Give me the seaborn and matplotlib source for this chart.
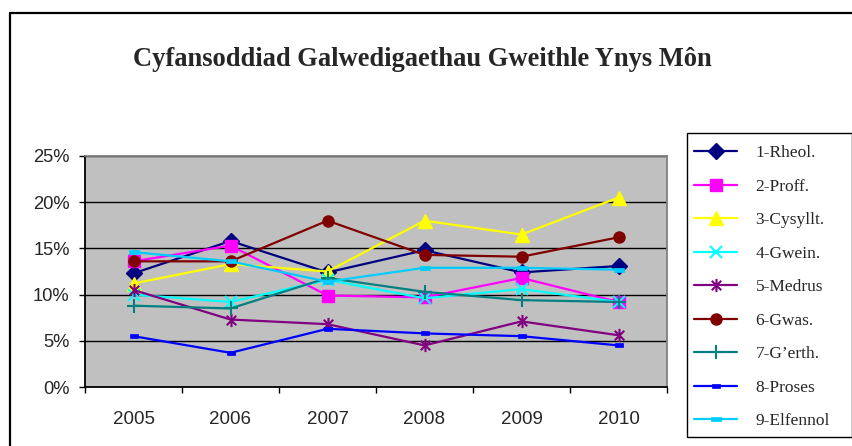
import numpy as np
import pandas as pd
import matplotlib
matplotlib.use("Agg")
import matplotlib.pyplot as plt
import seaborn as sns
from matplotlib.path import Path
from matplotlib.lines import Line2D
from matplotlib.patches import Rectangle
from matplotlib.ticker import FixedLocator, FuncFormatter

# Share of the Anglesey workforce by occupation group (%)
years = [2005, 2006, 2007, 2008, 2009, 2010]
rheol = [12.3, 15.8, 12.4, 14.8, 12.4, 13.1]
proff = [13.6, 15.3, 9.9, 9.7, 11.8, 9.2]
cysyllt = [11.2, 13.3, 12.5, 18.0, 16.5, 20.5]
gwein = [10.0, 9.2, 11.6, 9.6, 10.6, 9.2]
medrus = [10.5, 7.3, 6.8, 4.5, 7.1, 5.6]
gwas = [13.6, 13.6, 18.0, 14.3, 14.1, 16.2]
gerth = [8.8, 8.5, 11.8, 10.3, 9.4, 9.2]
proses = [5.5, 3.7, 6.3, 5.8, 5.5, 4.5]
elfennol = [14.6, 13.6, 11.4, 12.9, 12.9, 12.7]

labels = ["1-Rheol.", "2-Proff.", "3-Cysyllt.", "4-Gwein.", "5-Medrus",
          "6-Gwas.", "7-G\u2019erth.", "8-Proses", "9-Elfennol"]
values = [rheol, proff, cysyllt, gwein, medrus, gwas, gerth, proses, elfennol]

sns.set_theme(style="white")
plt.rcParams["font.family"] = ["Liberation Sans", "DejaVu Sans"]

# marker shapes
asterisk = Path([(0, -1), (0, 1), (-0.72, -0.72), (0.72, 0.72), (-0.72, 0.72), (0.72, -0.72)],
                [Path.MOVETO, Path.LINETO, Path.MOVETO, Path.LINETO, Path.MOVETO, Path.LINETO])
dash = Path([(-1, -0.5), (1, -0.5), (1, 0.5), (-1, 0.5), (-1, -0.5)],
            [Path.MOVETO, Path.LINETO, Path.LINETO, Path.LINETO, Path.CLOSEPOLY])

styles = [
    dict(color="#000080", marker="D", markersize=8, mew=1.0),
    dict(color="#FF00FF", marker="s", markersize=8, mew=1.0),
    dict(color="#FFFF00", marker="^", markersize=9.5, mew=1.0),
    dict(color="#00FFFF", marker="x", markersize=8, mew=1.5),
    dict(color="#800080", marker=asterisk, markersize=9.5, mew=1.5),
    dict(color="#800000", marker="o", markersize=8, mew=1.0),
    dict(color="#008080", marker="+", markersize=10, mew=1.5),
    dict(color="#0000FF", marker=dash, markersize=5.5, mew=0.5),
    dict(color="#00CCFF", marker=dash, markersize=7, mew=0.5),
]

W, H = 853, 446
fig = plt.figure(figsize=(W / 100, H / 100), dpi=100)
fig.patch.set_facecolor("white")

ax = fig.add_axes([85 / W, 1 - 387 / H, 582 / W, 231 / H])
ax.set_facecolor("#C0C0C0")

for lab, vals, st in zip(labels, values, styles):
    df = pd.DataFrame({"year": years, "pct": vals})
    sns.lineplot(data=df, x="year", y="pct", ax=ax, color=st["color"],
                 marker=st["marker"], markersize=st["markersize"],
                 markeredgewidth=st["mew"], markeredgecolor=st["color"],
                 markerfacecolor=st["color"], linewidth=1.6, label=lab,
                 legend=False)

ax.set_xlim(years[0] - 0.5, years[-1] + 0.5)
ax.set_ylim(0, 25)
ax.set_xlabel("")
ax.set_ylabel("")

# y axis: percent ticks with black gridlines
ax.yaxis.set_major_locator(FixedLocator([0, 5, 10, 15, 20, 25]))
ax.yaxis.set_major_formatter(FuncFormatter(lambda v, p: f"{v:.0f}%"))
ax.grid(axis="y", color="black", linewidth=1.0)
ax.set_axisbelow(True)

# x axis: tick marks between categories, labels centred on categories
ax.xaxis.set_major_locator(FixedLocator([y - 0.5 for y in years] + [years[-1] + 0.5]))
ax.xaxis.set_major_formatter(FuncFormatter(lambda v, p: ""))
ax.xaxis.set_minor_locator(FixedLocator(years))
ax.xaxis.set_minor_formatter(FuncFormatter(lambda v, p: f"{v:.0f}"))
ax.tick_params(axis="x", which="major", direction="out", length=4, width=1, color="black", bottom=True)
ax.tick_params(axis="x", which="minor", length=0, pad=17.5, labelsize=13.5, bottom=True)
ax.tick_params(axis="y", which="major", direction="out", length=4, width=1, color="black", left=True,
               pad=7, labelsize=13.2)

for side in ["left", "bottom"]:
    ax.spines[side].set_color("black")
    ax.spines[side].set_linewidth(1.3)
for side in ["top", "right"]:
    ax.spines[side].set_color("#808080")
    ax.spines[side].set_linewidth(1.3)

fig.text(422 / W, 1 - 60 / H, "Cyfansoddiad Galwedigaethau Gweithle Ynys M\u00f4n",
         ha="center", va="center", fontsize=19.1, fontweight="bold",
         family=["Liberation Serif", "DejaVu Serif"])

# legend box
fig.add_artist(Rectangle((687 / W, 1 - 437 / H), 165 / W, 304 / H, transform=fig.transFigure,
                         facecolor="white", edgecolor="black", linewidth=1.0, zorder=1))

handles = [Line2D([], [], color=st["color"], marker=st["marker"], markersize=st["markersize"],
                  markeredgewidth=st["mew"], markeredgecolor=st["color"],
                  markerfacecolor=st["color"], linewidth=1.6) for st in styles]
leg = fig.legend(handles, labels, loc="upper left",
                 bbox_to_anchor=(694 / W, 1 - 145 / H),
                 frameon=False, borderpad=0, labelspacing=1.0,
                 handlelength=2.5, handletextpad=1.05, borderaxespad=0,
                 prop={"family": ["Liberation Serif", "DejaVu Serif"], "size": 12.5})
leg.set_zorder(2)

# outer chart border (top and left edges visible)
fig.add_artist(Line2D([9.5 / W, 9.5 / W], [0, 1 - 13 / H], transform=fig.transFigure,
                      color="black", linewidth=1.6))
fig.add_artist(Line2D([9.5 / W, 1], [1 - 13 / H, 1 - 13 / H], transform=fig.transFigure,
                      color="black", linewidth=1.6))

fig.savefig("out.png", dpi=100)
